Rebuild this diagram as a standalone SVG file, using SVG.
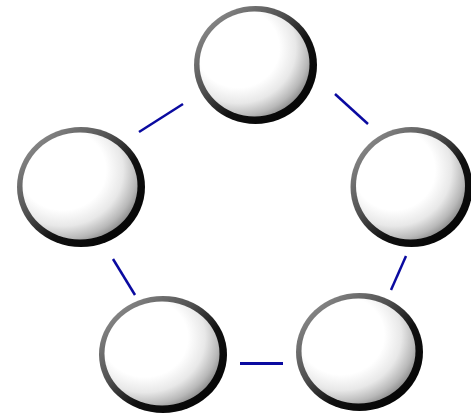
<svg xmlns="http://www.w3.org/2000/svg" width="471" height="415" viewBox="0 0 471 415">
<style>
.ring{fill:url(#ringG)}
.ball{fill:url(#ballG)}
.edge{stroke:#0a0aa0;stroke-width:2.5;fill:none}
</style>
<defs>
<linearGradient id="ringG" x1="0" y1="0" x2="1" y2="1">
<stop offset="0" stop-color="#a0a0a0"/>
<stop offset="0.4" stop-color="#505050"/>
<stop offset="0.6" stop-color="#101010"/>
<stop offset="1" stop-color="#000"/>
</linearGradient>
<radialGradient id="ballG" cx="0.35" cy="0.35" r="0.75" fx="0.35" fy="0.35">
<stop offset="0" stop-color="#fff"/>
<stop offset="0.5" stop-color="#fff"/>
<stop offset="0.7" stop-color="#e8e8e8"/>
<stop offset="0.86" stop-color="#b8b8b8"/>
<stop offset="1" stop-color="#7a7a7a"/>
</radialGradient>
</defs>
<g id="connectors">
<line class="edge" x1="139" y1="132" x2="183" y2="104"/>
<line class="edge" x1="335" y1="94" x2="368" y2="124"/>
<line class="edge" x1="113" y1="259" x2="135" y2="295"/>
<line class="edge" x1="406" y1="256" x2="391" y2="290"/>
<line class="edge" style="stroke-width:3" x1="240" y1="363.5" x2="283" y2="363.5"/>
</g>
<g id="node-top">
<ellipse class="ring" cx="255.5" cy="65" rx="61.5" ry="59"/>
<ellipse class="ball" cx="254.5" cy="64" rx="55" ry="52.5"/>
</g>
<g id="node-left">
<ellipse class="ring" cx="81" cy="187" rx="64" ry="60"/>
<ellipse class="ball" cx="80" cy="186" rx="57.5" ry="53.5"/>
</g>
<g id="node-right">
<ellipse class="ring" cx="411.5" cy="187" rx="61" ry="60"/>
<ellipse class="ball" cx="410.5" cy="186" rx="54.5" ry="53.5"/>
</g>
<g id="node-bottom-left">
<ellipse class="ring" cx="163" cy="354.5" rx="64" ry="58.5"/>
<ellipse class="ball" cx="162" cy="353.5" rx="57.5" ry="52"/>
</g>
<g id="node-bottom-right">
<ellipse class="ring" cx="359.5" cy="352" rx="63.5" ry="59"/>
<ellipse class="ball" cx="358.5" cy="351" rx="57" ry="52.5"/>
</g>
</svg>
